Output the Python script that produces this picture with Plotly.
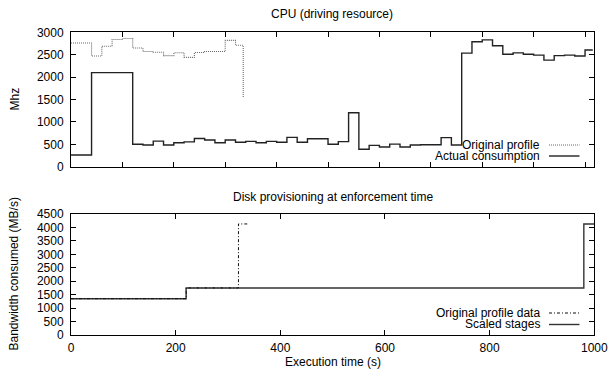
import plotly.graph_objects as go

# ---------------- data ----------------
# CPU plot (top)
cpu_time = [0, 40, 120, 140, 160, 180, 200, 220, 240, 260, 280, 300, 320, 340, 360, 380,
            400, 420, 440, 460, 480, 500, 520, 540, 560, 580, 600, 620, 640, 660, 680, 700,
            720, 740, 760, 780, 800, 820, 840, 860, 880, 900, 920, 940, 960, 980, 1000, 1015]
cpu_actual = [260, 2100, 500, 485, 570, 485, 535, 555, 630, 595, 535, 595, 545, 565, 535, 565,
              545, 655, 545, 625, 625, 500, 560, 1205, 390, 475, 440, 505, 440, 485, 490, 490,
              650, 485, 2535, 2790, 2830, 2700, 2510, 2540, 2510, 2490, 2380, 2480, 2490, 2470, 2605, 2605]

profile_time = [0, 40, 60, 80, 100, 120, 140, 160, 180, 200, 220, 240, 260, 280, 300, 320, 335]
profile_vals = [2760, 2470, 2690, 2840, 2860, 2650, 2570, 2555, 2480, 2545, 2440, 2550, 2570, 2570,
                2820, 2710, 1540]

# Disk plot (bottom)
disk_profile_time = [0, 220, 320, 340]
disk_profile_vals = [1350, 1750, 4130, 4130]
scaled_time = [0, 220, 980, 1000]
scaled_vals = [1350, 1750, 4130, 4130]

cpu_yticks = [0, 500, 1000, 1500, 2000, 2500, 3000]
disk_yticks = [0, 500, 1000, 1500, 2000, 2500, 3000, 3500, 4000, 4500]
disk_xticks = [0, 200, 400, 600, 800, 1000]

# ---------------- figure ----------------
W, H = 609, 375
FONT = "Liberation Sans, Arial, sans-serif"

def px_x(p):
    return p / W

def px_y(p):
    return 1 - p / H

fig = go.Figure()

fig.add_trace(go.Scatter(x=profile_time, y=profile_vals, mode="lines", line_shape="hv",
                         line=dict(color="#6a6a6a", width=1.1, dash="1px,1px"),
                         xaxis="x", yaxis="y", showlegend=False))
fig.add_trace(go.Scatter(x=cpu_time, y=cpu_actual, mode="lines", line_shape="hv",
                         line=dict(color="#222222", width=1.4),
                         xaxis="x", yaxis="y", showlegend=False))

fig.add_trace(go.Scatter(x=scaled_time, y=scaled_vals, mode="lines", line_shape="hv",
                         line=dict(color="#333333", width=1.4),
                         xaxis="x2", yaxis="y2", showlegend=False))
fig.add_trace(go.Scatter(x=disk_profile_time, y=disk_profile_vals, mode="lines", line_shape="hv",
                         line=dict(color="#111111", width=1.0, dash="3px,2px,1px,2px"),
                         xaxis="x2", yaxis="y2", showlegend=False))

axis_common = dict(showgrid=False, zeroline=False, showline=True, linecolor="black",
                   linewidth=1, mirror="ticks", ticks="inside", ticklen=5, tickcolor="black",
                   tickwidth=1, automargin=False,
                   tickfont=dict(family=FONT, size=12, color="black"))

xdom = [px_x(71), px_x(594.3)]
fig.update_layout(
    template="none",
    width=W, height=H, autosize=False,
    margin=dict(l=0, r=0, t=0, b=0, pad=0),
    paper_bgcolor="white", plot_bgcolor="white",
    showlegend=False,
    xaxis=dict(domain=xdom, range=[0, 1018], tickmode="linear", tick0=0, dtick=100,
               showticklabels=False, anchor="y", **axis_common),
    yaxis=dict(domain=[px_y(166.7), px_y(32.3)], range=[0, 3000], tickvals=cpu_yticks,
               anchor="x", ticklabelstandoff=4, **axis_common),
    xaxis2=dict(domain=xdom, range=[0, 1000], tickvals=disk_xticks, anchor="y2",
                ticklabelstandoff=2, **axis_common),
    yaxis2=dict(domain=[px_y(335), px_y(214)], range=[0, 4500], tickvals=disk_yticks,
                anchor="x2", ticklabelstandoff=4, **axis_common),
)

def text(x, y, s, xanchor="center", angle=0):
    fig.add_annotation(x=px_x(x), y=px_y(y), xref="paper", yref="paper", text=s,
                       showarrow=False, xanchor=xanchor, yanchor="middle", textangle=angle,
                       font=dict(family=FONT, size=12, color="black"))

# titles
text(332, 14, "CPU (driving resource)")
text(333, 197, "Disk provisioning at enforcement time")
text(333, 362, "Execution time (s)")
text(15, 99.5, "Mhz", angle=-90)
text(13, 274.5, "Bandwidth consumed (MB/s)", angle=-90)

# legends (gnuplot style: text right, sample to the right)
text(542, 144.5, "Original profile", xanchor="right")
text(542, 155.5, "Actual consumption", xanchor="right")
text(542, 312.5, "Original profile data", xanchor="right")
text(542, 324, "Scaled stages", xanchor="right")

def sample(y, color, width, dash):
    fig.add_shape(type="line", xref="paper", yref="paper",
                  x0=px_x(549), x1=px_x(579.5), y0=px_y(y), y1=px_y(y),
                  line=dict(color=color, width=width, dash=dash))

sample(145, "#6a6a6a", 1.1, "1px,1px")
sample(156, "#222222", 1.4, "solid")
sample(313, "#111111", 1.0, "3px,2px,1px,2px")
sample(324.5, "#333333", 1.4, "solid")

fig.write_html("out.html", config={"responsive": False},
               default_width="609px", default_height="375px")
